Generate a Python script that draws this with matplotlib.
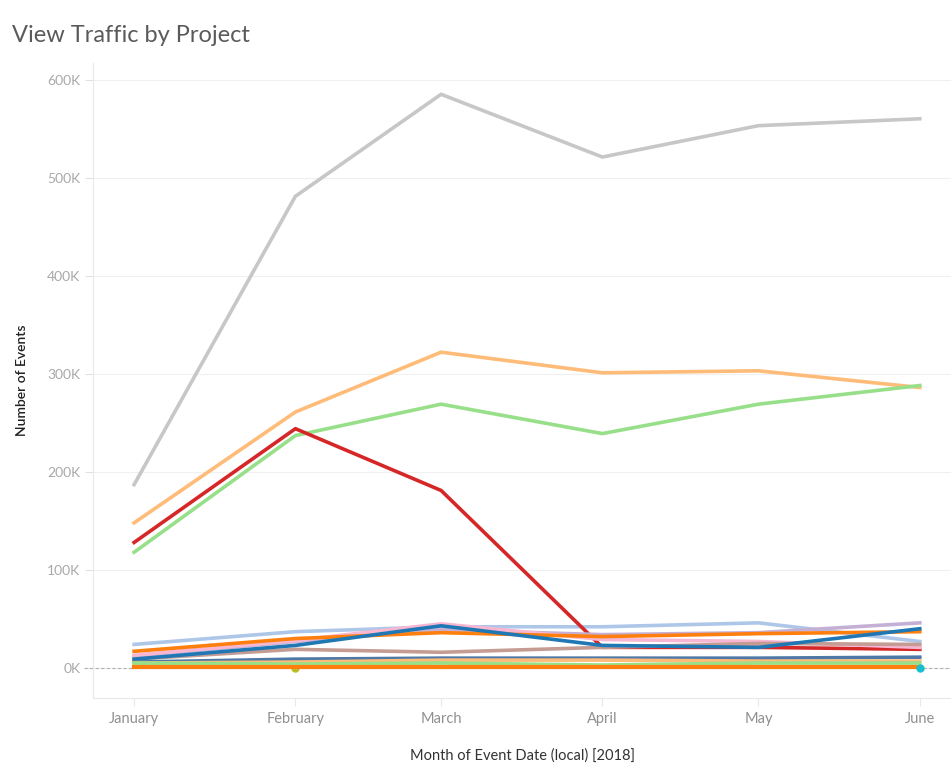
import pandas as pd
import matplotlib
matplotlib.use("Agg")
import matplotlib.pyplot as plt
from matplotlib.ticker import FuncFormatter, MultipleLocator

plt.rcParams['font.family'] = ['Lato', 'DejaVu Sans']

# monthly view events per project, in thousands
months = ['January', 'February', 'March', 'April', 'May', 'June']
month_starts = pd.date_range('2018-01-01', periods=6, freq='MS')

gray = [187, 481, 585, 521, 553, 560]
light_orange = [148, 261, 322, 301, 303, 286]
light_green = [118, 237, 269, 239, 269, 288]
light_blue = [24, 37, 42, 42, 46, 27]
red = [128, 244, 181, 21, 21, 19]
lavender = [12, 27, 39, 34, 36, 46]
pink = [13, 28, 45, 29, 27, 21]
brown = [9, 19, 16, 21, 25, 24]
orange = [17, 30, 36, 32, 35, 37]
dark_blue = [9, 23, 43, 23, 21, 40]
steel_blue = [6, 9, 10, 10, 10, 11]
peach = [5, 6, 8, 8, 7, 7]
green = [5, 4, 5, 3, 5, 5]
orange_low = [1, 1, 1, 1, 1, 1]

# single-month projects shown as dots
olive_month, olive_value = 1, 0
teal_month, teal_value = 5, 0

series = [
    (gray, '#c7c7c7'),
    (light_orange, '#ffbb78'),
    (light_green, '#98df8a'),
    (light_blue, '#aec7e8'),
    (red, '#d62728'),
    (lavender, '#c5b0d5'),
    (pink, '#f7b6d2'),
    (brown, '#c49c94'),
    (orange, '#ff7f0e'),
    (dark_blue, '#1f77b4'),
    (steel_blue, '#4e79a7'),
    (peach, '#ffbb78'),
    (green, '#98df8a'),
]

fig = plt.figure(figsize=(9.51, 7.67), dpi=100)
ax = fig.add_axes([0.0978, 0.09, 0.9022, 0.828])

ax.axhline(0, color='#b0b0b0', lw=0.8, ls=(0, (3, 2)), zorder=1, clip_on=False,
           xmin=-0.01)

ax.plot(month_starts[olive_month], olive_value, 'o', color='#bcbd22', ms=5, zorder=2)
for values, color in series:
    ax.plot(month_starts, values, color=color, lw=2.6, zorder=3)
ax.plot(month_starts, orange_low, color='#ff7f0e', lw=3, zorder=4)
ax.plot(month_starts[teal_month], teal_value, 'o', color='#17becf', ms=5, zorder=5)

ax.set_xlim(month_starts[0] - pd.Timedelta(days=7.9),
            month_starts[-1] + pd.Timedelta(days=6))
ax.set_ylim(-30.6, 617)

ax.yaxis.set_major_locator(MultipleLocator(100))
ax.yaxis.set_major_formatter(FuncFormatter(lambda v, p: f'{int(v)}K'))
ax.set_xticks(month_starts)
ax.set_xticklabels(months)

ax.grid(axis='y', color='#f0f0f0', lw=0.8)
ax.set_axisbelow(True)
for side in ['top', 'right']:
    ax.spines[side].set_visible(False)
for side in ['left', 'bottom']:
    ax.spines[side].set_color('#e8e8e8')
    ax.spines[side].set_linewidth(0.8)

ax.tick_params(axis='y', length=6, color='#e0e0e0', labelcolor='#a8a8a8',
               labelsize=10, pad=3)
ax.tick_params(axis='x', length=6, color='#e8e8e8', labelcolor='#909090',
               labelsize=10.5, pad=4)

ax.set_ylabel('Number of Events', fontsize=10, color='#222222', fontweight='semibold')
ax.yaxis.set_label_coords(-0.0758, 0.5)
ax.set_xlabel('Month of Event Date (local) [2018]', fontsize=10.5, color='#333333')
ax.xaxis.set_label_coords(0.5, -0.079)

fig.text(12 / 951, 1 - 35 / 767, 'View Traffic by Project', fontsize=17,
         color='#5a5a5a', va='center', ha='left')

fig.savefig('out.png', dpi=100)
